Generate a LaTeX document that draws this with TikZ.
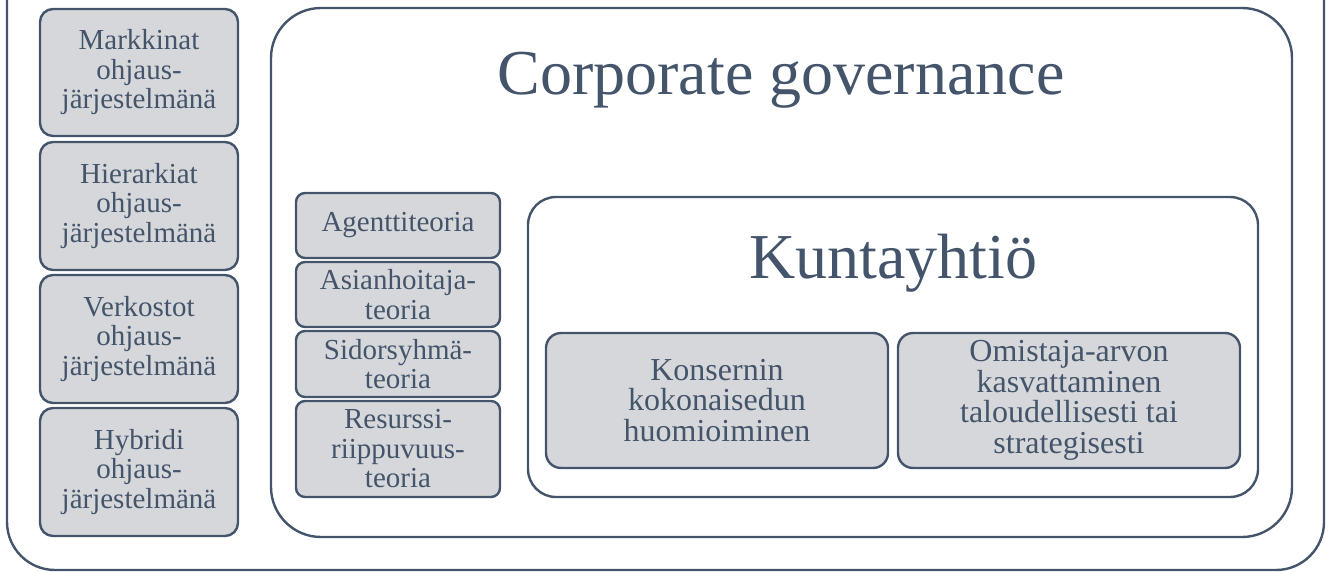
\documentclass[tikz,border=0pt]{standalone}
\usepackage{fontspec}
\setmainfont{Liberation Serif}
\definecolor{slate}{HTML}{44546A}
\definecolor{boxfill}{HTML}{D6D7DB}
\begin{document}
\begin{tikzpicture}[x=1pt,y=-1pt,
  frame/.style={draw=slate,line width=2.4pt},
  gbox/.style={draw=slate,fill=boxfill,line width=2.4pt,text=slate,align=center,
    inner sep=0pt,font=\fontsize{29}{29.5}\selectfont},
  title/.style={text=slate,inner sep=0pt,font=\fontsize{64}{70}\selectfont}]
\useasboundingbox (0,0) rectangle (1330,572);
% outer frame, its top edge runs beyond the page
\draw[frame,rounded corners=48pt] (7,-80) rectangle (1324,570);
% corporate governance frame
\draw[frame,rounded corners=50pt] (271,8) rectangle (1292,537);
\node[title,anchor=base] (cg) at (781,95) {Corporate governance};
% kuntayhtio frame
\draw[frame,rounded corners=28pt] (528,197) rectangle (1258,497);
\node[title,anchor=base] (ky) at (893,278) {Kuntayhtiö};
% steering systems
\begin{scope}[every node/.style={gbox,rounded corners=13pt,minimum width=198pt}]
\node[minimum height=127pt] (m) at (139,72.5) {Markkinat\\ohjaus-\\järjestelmänä};
\node[minimum height=128pt] (h) at (139,206) {Hierarkiat\\ohjaus-\\järjestelmänä};
\node[minimum height=128pt] (v) at (139,339) {Verkostot\\ohjaus-\\järjestelmänä};
\node[minimum height=128pt] (y) at (139,472) {Hybridi\\ohjaus-\\järjestelmänä};
\end{scope}
% theories
\begin{scope}[every node/.style={gbox,rounded corners=9pt,minimum width=204pt}]
\node[minimum height=65pt] (a) at (398,225.5) {Agenttiteoria};
\node[minimum height=65pt] (ah) at (398,294.5) {Asianhoitaja-\\teoria};
\node[minimum height=66pt] (s) at (398,364) {Sidorsyhmä-\\teoria};
\node[minimum height=96pt] (r) at (398,449) {Resurssi-\\riippuvuus-\\teoria};
\end{scope}
% municipal company goals
\begin{scope}[every node/.style={gbox,rounded corners=15pt,minimum width=342pt,minimum height=135pt,
    font=\fontsize{32}{30.5}\selectfont}]
\node (k) at (717,400.5) {Konsernin\\kokonaisedun\\huomioiminen};
\node (o) at (1069,400.5) {Omistaja-arvon\\kasvattaminen\\taloudellisesti tai\\strategisesti};
\end{scope}
\end{tikzpicture}
\end{document}
